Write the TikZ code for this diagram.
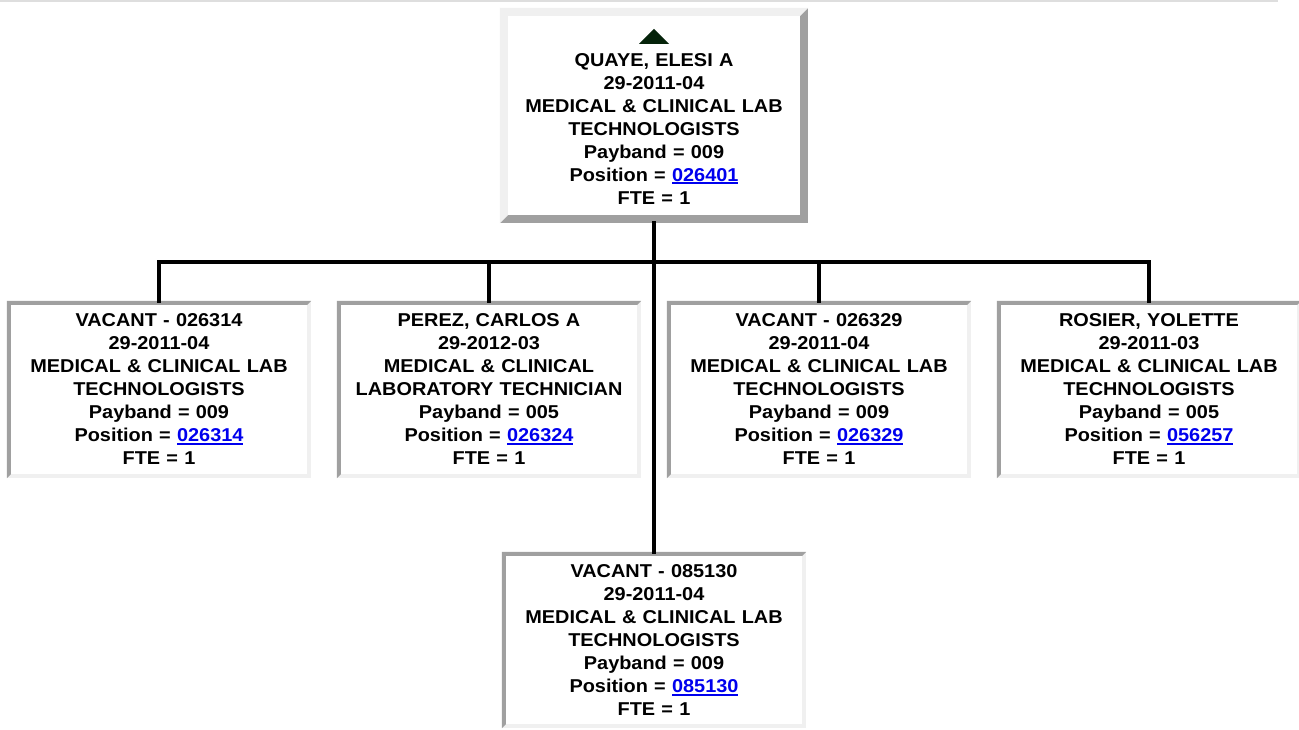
\documentclass[tikz,border=0pt]{standalone}
\usepackage{fontspec}
\setmainfont{Liberation Sans}[FakeStretch=1.07]
\usetikzlibrary{backgrounds}
\definecolor{bdark}{RGB}{160,160,160}
\definecolor{blight}{RGB}{240,240,240}
\definecolor{toprule}{RGB}{222,222,222}
\definecolor{linkblue}{RGB}{0,0,238}
\definecolor{tri}{RGB}{5,35,10}
\newcommand\lnk[1]{\textcolor{linkblue}{\setbox0\hbox{#1}\rlap{\rule[-3.2pt]{\wd0}{1.8pt}}\box0}}
% #1 node name, #2 top-left colour, #3 bottom-right colour, #4 border width
\newcommand\bevelbox[4]{%
  \fill[#3] (#1.north west) rectangle (#1.south east);
  \fill[#2] (#1.south west) -- (#1.north west) -- (#1.north east)
     -- ([shift={(-#4,-#4)}]#1.north east) -- ([shift={(#4,-#4)}]#1.north west)
     -- ([shift={(#4,#4)}]#1.south west) -- cycle;
  \fill[white] ([shift={(#4,-#4)}]#1.north west) rectangle ([shift={(-#4,#4)}]#1.south east);
}
\tikzset{
  card/.style={inner sep=0pt, align=center, text width=#1,
    font=\fontsize{18.6}{23}\selectfont\bfseries},
  conn/.style={line width=4pt, black, line cap=rect, line join=miter},
}
\begin{document}
\begin{tikzpicture}[x=1pt,y=-1pt]
\useasboundingbox (0,0) rectangle (1299,730);
\begin{scope}[on background layer]
  \fill[white] (0,0) rectangle (1299,730);
  \fill[toprule] (0,0) rectangle (1278,2);
\end{scope}

\node[card=300pt, minimum width=308pt, minimum height=215pt] (top) at (654,115.5)
 {\strut\\QUAYE, ELESI A\\29-2011-04\\MEDICAL \& CLINICAL LAB\\TECHNOLOGISTS\\Payband = 009\\Position = \lnk{026401}\\FTE = 1};

\node[card=300pt, minimum width=304pt, minimum height=177pt] (c1) at (159,389.5)
 {VACANT - 026314\\29-2011-04\\MEDICAL \& CLINICAL LAB\\TECHNOLOGISTS\\Payband = 009\\Position = \lnk{026314}\\FTE = 1};
\node[card=300pt, minimum width=304pt, minimum height=177pt] (c2) at (489,389.5)
 {PEREZ, CARLOS A\\29-2012-03\\MEDICAL \& CLINICAL\\LABORATORY TECHNICIAN\\Payband = 005\\Position = \lnk{026324}\\FTE = 1};
\node[card=300pt, minimum width=304pt, minimum height=177pt] (c3) at (819,389.5)
 {VACANT - 026329\\29-2011-04\\MEDICAL \& CLINICAL LAB\\TECHNOLOGISTS\\Payband = 009\\Position = \lnk{026329}\\FTE = 1};
\node[card=300pt, minimum width=304pt, minimum height=177pt] (c4) at (1149,389.5)
 {ROSIER, YOLETTE\\29-2011-03\\MEDICAL \& CLINICAL LAB\\TECHNOLOGISTS\\Payband = 005\\Position = \lnk{056257}\\FTE = 1};

\node[card=300pt, minimum width=304pt, minimum height=176pt] (bot) at (654,640)
 {VACANT - 085130\\29-2011-04\\MEDICAL \& CLINICAL LAB\\TECHNOLOGISTS\\Payband = 009\\Position = \lnk{085130}\\FTE = 1};

\begin{scope}[on background layer]
  \bevelbox{top}{blight}{bdark}{8pt}
  \bevelbox{c1}{bdark}{blight}{4pt}
  \bevelbox{c2}{bdark}{blight}{4pt}
  \bevelbox{c3}{bdark}{blight}{4pt}
  \bevelbox{c4}{bdark}{blight}{4pt}
  \bevelbox{bot}{bdark}{blight}{4pt}
\end{scope}

% expand/collapse marker
\fill[tri] ([yshift=-21pt]top.north) -- ++(15pt,-15pt) -- ++(-30pt,0) -- cycle;

\coordinate (bus) at (654,262);
\draw[conn] (top.south) -- (bot.north);
\draw[conn] (c1.north) -- (c1.north |- bus) -- (c4.north |- bus) -- (c4.north);
\draw[conn] (c2.north) -- (c2.north |- bus);
\draw[conn] (c3.north) -- (c3.north |- bus);
\end{tikzpicture}
\end{document}
